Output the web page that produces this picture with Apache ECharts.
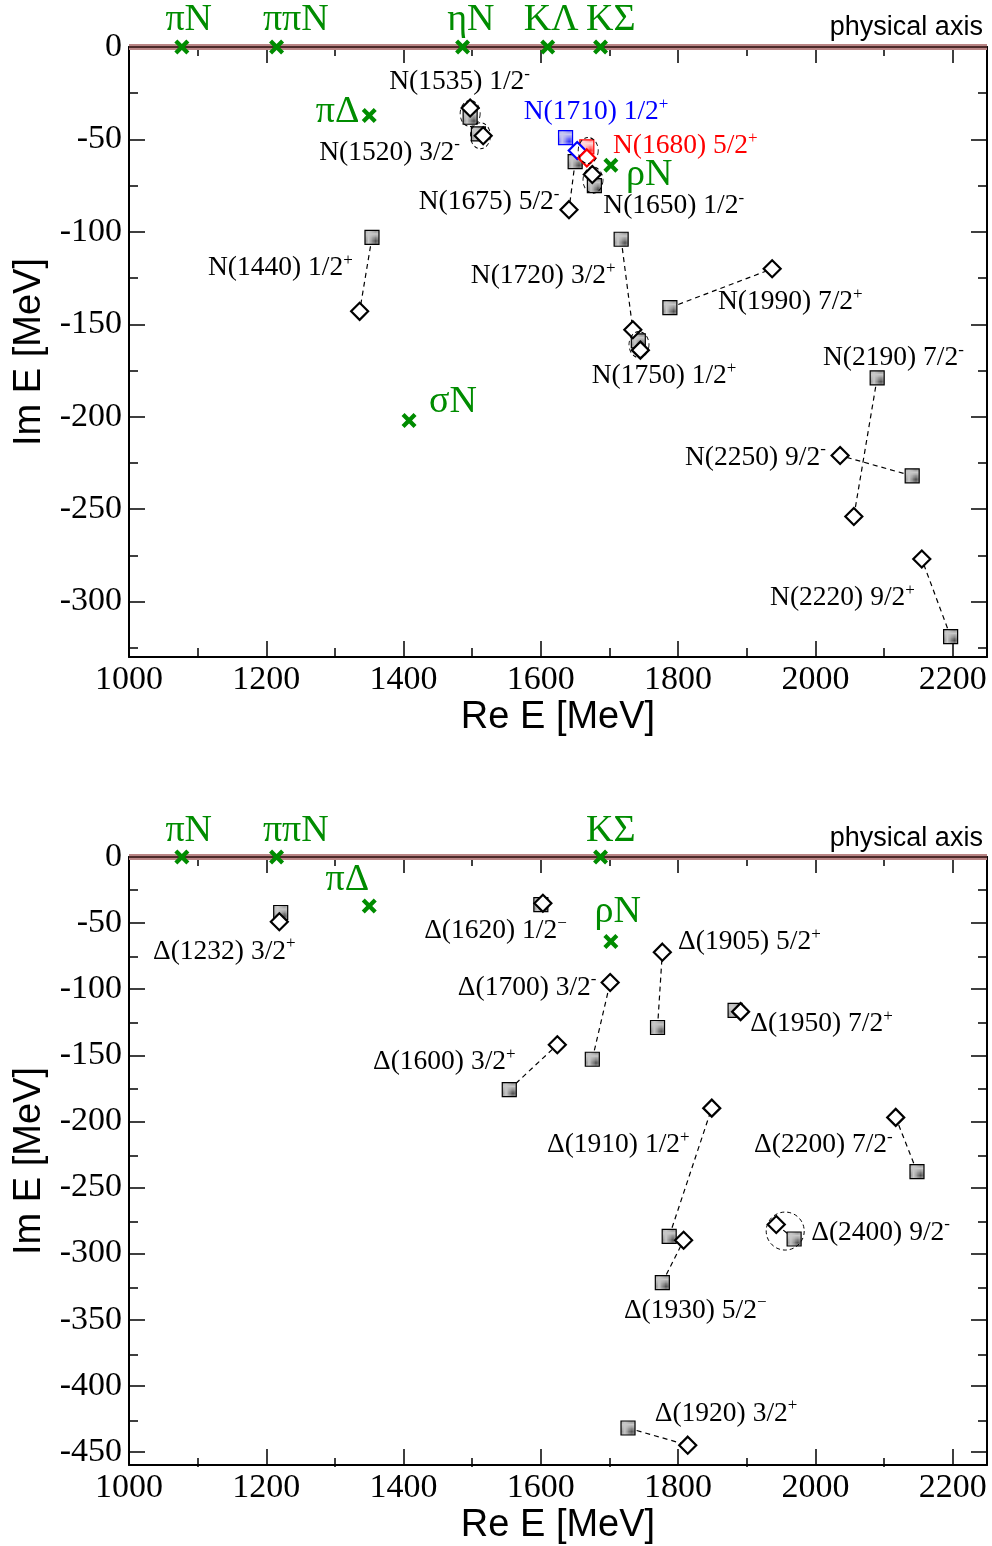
<!DOCTYPE html>
<html>
<head>
<meta charset="utf-8">
<script src="https://cdn.jsdelivr.net/npm/echarts@6/dist/echarts.min.js"></script>
<style>
  html, body { margin: 0; padding: 0; background: #fff; }
  #chart { width: 992px; height: 1546px; }
</style>
</head>
<body>
<div id="chart"></div>
<script>
// axis ticks
var xMajors = [1000, 1200, 1400, 1600, 1800, 2000, 2200];
var xMinors = [1100, 1300, 1500, 1700, 1900, 2100];
var nYMajors = [0, -50, -100, -150, -200, -250, -300];
var nYMinors = [-25, -75, -125, -175, -225, -275, -325];
var dYMajors = [0, -50, -100, -150, -200, -250, -300, -350, -400, -450];
var dYMinors = [-25, -75, -125, -175, -225, -275, -325, -375, -425];

// nucleon resonances: pole (diamond) and second value (square), Re E / Im E in MeV
var nNames = ['N(1535) 1/2', 'N(1520) 3/2', 'N(1710) 1/2', 'N(1680) 5/2', 'N(1675) 5/2',
  'N(1650) 1/2', 'N(1440) 1/2', 'N(1720) 3/2', 'N(1990) 7/2', 'N(1750) 1/2',
  'N(2190) 7/2', 'N(2250) 9/2', 'N(2220) 9/2'];
var nParity = ['-', '-', '+', '+', '-', '-', '+', '+', '+', '+', '-', '-', '+'];
var nDiamonds = [[1497, -33], [1516, -48], [1653, -56], [1667, -60], [1641, -88],
  [1675, -69], [1336, -143], [1734, -153], [1937, -120], [1745, -164],
  [2056, -254], [2036, -221], [2155, -277]];
var nSquares = [[1497, -38], [1509, -47], [1636, -49], [1667, -54], [1650, -62],
  [1678, -75], [1354, -103], [1717, -104], [1788, -141], [1742, -159],
  [2090, -179], [2141, -232], [2197, -319]];
var nLabelAt = [[1379, -19], [1277, -57], [1575, -35], [1705, -53.5], [1422, -84],
  [1691, -86], [1115, -119.5], [1498, -124], [1858, -138], [1674, -178],
  [2011, -168], [1810, -222], [1934, -298]];
var nColors = ['#000', '#000', '#0000ff', '#ff0000', '#000', '#000', '#000', '#000', '#000', '#000', '#000', '#000', '#000'];
var nCircles = [[1497, -36], [1512, -48], [1669, -56], [1676, -72], [1743, -161]];

// delta resonances
var dNames = ['Δ(1232) 3/2', 'Δ(1620) 1/2', 'Δ(1600) 3/2', 'Δ(1700) 3/2', 'Δ(1905) 5/2',
  'Δ(1950) 7/2', 'Δ(1910) 1/2', 'Δ(1930) 5/2', 'Δ(2200) 7/2', 'Δ(2400) 9/2', 'Δ(1920) 3/2'];
var dParity = ['+', '−', '+', '-', '+', '+', '+', '−', '-', '-', '+'];
var dDiamonds = [[1219, -49], [1603, -35], [1624, -142], [1701, -95], [1777, -72],
  [1891, -117], [1849, -190], [1808, -290], [2117, -197], [1943, -278], [1814, -445]];
var dSquares = [[1221, -42], [1600, -36], [1554, -176], [1675, -153], [1770, -129],
  [1883, -116], [1787, -287], [1777, -322], [2148, -238], [1969, -289], [1727, -432]];
var dLabelAt = [[1035, -71.5], [1430, -55.7], [1355.5, -155], [1479, -98.6], [1800, -64],
  [1905, -126.4], [1609, -218], [1721, -343], [1910.6, -218], [1994, -284], [1766, -421]];
var dCircles = [[1956, -283]];

// two-body channels (thresholds / branch points)
var nChannels = ['πN', 'ππN', 'ηN', 'KΛ', 'KΣ', 'πΔ', 'ρN', 'σN'];
var nChannelAt = [[1077, 0], [1215, 0], [1486, 0], [1610, 0], [1687, 0], [1350, -37], [1702, -64], [1408, -202]];
var nChannelLabelAt = [[1087, 14.6], [1243, 14.6], [1498, 14.6], [1615, 14.6], [1702, 14.6], [1304, -35], [1758, -69], [1472, -192]];
var dChannels = ['πN', 'ππN', 'KΣ', 'πΔ', 'ρN'];
var dChannelAt = [[1077, 0], [1215, 0], [1687, 0], [1350, -37], [1702, -64]];
var dChannelLabelAt = [[1087, 20], [1243, 20], [1702, 20], [1318, -17.3], [1712, -42]];

var serif = "'Liberation Serif', 'DejaVu Serif', serif";
var sans = "'Liberation Sans', 'DejaVu Sans', sans-serif";
var green = '#008c00';

function dots(bg, fg) {
  var c = document.createElement('canvas');
  c.width = 2; c.height = 2;
  var g = c.getContext('2d');
  g.fillStyle = bg; g.fillRect(0, 0, 2, 2);
  g.fillStyle = fg; g.fillRect(0, 0, 1, 1);
  return { image: c, repeat: 'repeat' };
}
var greyFill = dots('#c8c8c8', '#505050');
var blueFill = dots('#c8c8f0', '#3030ff');
var redFill = dots('#ffd8d8', '#ff3030');

var panels = [
  { top: 47, yMin: -330, majors: nYMajors, minors: nYMinors },
  { top: 857, yMin: -460, majors: dYMajors, minors: dYMinors }
];

function plain(v) { return String(v); }

var grids = [], xAxes = [], yAxes = [];
panels.forEach(function (p) {
  [true, false].forEach(function (main) {
    var g = grids.length;
    grids.push({ left: 129, top: p.top, width: 858, height: 610 });
    ['bottom', 'top'].forEach(function (pos) {
      var lab = main && pos === 'bottom';
      xAxes.push({
        type: 'value', gridIndex: g, position: pos, min: 1000, max: 2250,
        axisLine: { show: main, onZero: false, lineStyle: { color: '#000', width: 2 } },
        axisTick: { show: true, inside: true, length: main ? 16 : 9, customValues: main ? xMajors : xMinors,
          lineStyle: { color: '#000', width: 1.5 } },
        axisLabel: lab ? { show: true, customValues: xMajors, margin: 6, color: '#000',
          fontFamily: serif, fontSize: 34, formatter: plain } : { show: false },
        splitLine: { show: false },
        name: lab ? 'Re E [MeV]' : '', nameLocation: 'middle', nameGap: 42,
        nameTextStyle: { fontFamily: sans, fontSize: 38, color: '#000' }
      });
    });
    ['left', 'right'].forEach(function (pos) {
      var lab = main && pos === 'left';
      yAxes.push({
        type: 'value', gridIndex: g, position: pos, min: p.yMin, max: 0,
        axisLine: { show: main, onZero: false, lineStyle: { color: '#000', width: 2 } },
        axisTick: { show: true, inside: true, length: main ? 16 : 9, customValues: main ? p.majors : p.minors,
          lineStyle: { color: '#000', width: 1.5 } },
        axisLabel: lab ? { show: true, customValues: p.majors, margin: 7, color: '#000',
          fontFamily: serif, fontSize: 34, formatter: plain } : { show: false },
        splitLine: { show: false },
        name: lab ? 'Im E [MeV]' : '', nameLocation: 'middle', nameRotate: 90, nameGap: 80,
        nameTextStyle: { fontFamily: sans, fontSize: 38, color: '#000' }
      });
    });
  });
});

var series = [];

function textSeries(ax, data, label) {
  return { type: 'scatter', xAxisIndex: ax, yAxisIndex: ax, clip: false, z: 9, symbolSize: 1,
    itemStyle: { color: 'rgba(0,0,0,0)', opacity: 1 }, silent: true, data: data, label: label };
}

function addPanel(ax, names, parity, diamonds, squares, labelAt, colors, circles,
                  channels, channelAt, channelLabelAt, circleSize) {
  // physical axis
  series.push({ type: 'line', xAxisIndex: ax, yAxisIndex: ax, data: [[1000, 0], [2250, 0]], symbol: 'none',
    clip: false, silent: true, z: 3, lineStyle: { color: '#b98585', width: 6 } });
  series.push({ type: 'line', xAxisIndex: ax, yAxisIndex: ax, data: [[1000, 0], [2250, 0]], symbol: 'none',
    clip: false, silent: true, z: 3, lineStyle: { color: '#2a0c0c', width: 1.5 } });
  // connecting lines
  names.forEach(function (n, i) {
    var c = colors ? colors[i] : '#000';
    series.push({ type: 'line', xAxisIndex: ax, yAxisIndex: ax, data: [squares[i], diamonds[i]], symbol: 'none',
      silent: true, z: 4, lineStyle: { color: c, width: 1.2, type: c === '#0000ff' ? 'solid' : [5, 4] } });
  });
  series.push({ type: 'scatter', xAxisIndex: ax, yAxisIndex: ax, symbol: 'rect', symbolSize: 14, z: 5,
    data: squares.map(function (s, i) {
      var c = colors ? colors[i] : '#000';
      return { value: s, itemStyle: { color: c === '#0000ff' ? blueFill : c === '#ff0000' ? redFill : greyFill,
        borderColor: c, borderWidth: 1.2, opacity: 1 } };
    }) });
  series.push({ type: 'scatter', xAxisIndex: ax, yAxisIndex: ax, symbol: 'diamond', symbolSize: 17, z: 6,
    data: diamonds.map(function (d, i) {
      return { value: d, itemStyle: { color: '#fff', borderColor: colors ? colors[i] : '#000', borderWidth: 2.2, opacity: 1 } };
    }) });
  series.push({ type: 'scatter', xAxisIndex: ax, yAxisIndex: ax, symbol: 'circle', symbolSize: circleSize, z: 7,
    silent: true, data: circles,
    itemStyle: { color: 'rgba(0,0,0,0)', borderColor: '#000', borderWidth: 1, borderType: [4, 3], opacity: 1 } });
  // channel crosses
  series.push({ type: 'scatter', xAxisIndex: ax, yAxisIndex: ax, clip: false, z: 8, symbolSize: 15,
    symbol: 'path://M2,0L5,3L8,0L10,2L7,5L10,8L8,10L5,7L2,10L0,8L3,5L0,2Z',
    itemStyle: { color: green, opacity: 1 }, data: channelAt });
  // channel names
  series.push(textSeries(ax,
    channels.map(function (c, i) { return { value: channelLabelAt[i], name: c }; }),
    { show: true, position: 'inside', align: 'center', verticalAlign: 'middle', opacity: 1,
      formatter: '{b}', fontFamily: serif, fontSize: 38, color: green }));
  // resonance names
  series.push(textSeries(ax,
    names.map(function (n, i) {
      return { value: labelAt[i], name: n, sup: parity[i], label: { color: colors ? colors[i] : '#000' } };
    }),
    { show: true, position: 'inside', align: 'left', verticalAlign: 'middle', opacity: 1,
      fontFamily: serif, fontSize: 27.5, color: '#000',
      formatter: function (p) { return '{a|' + p.data.name + '}{s|' + p.data.sup + '}'; },
      rich: { a: { fontSize: 27.5, lineHeight: 32 }, s: { fontSize: 17, lineHeight: 14, verticalAlign: 'top' } } }));
  // physical axis label
  series.push(textSeries(ax,
    [{ value: [2244, ax === 0 ? 10.3 : 14.3], name: 'physical axis' }],
    { show: true, position: 'inside', align: 'right', verticalAlign: 'middle', opacity: 1,
      formatter: '{b}', fontFamily: sans, fontSize: 27, color: '#000' }));
}

addPanel(0, nNames, nParity, nDiamonds, nSquares, nLabelAt, nColors, nCircles,
  nChannels, nChannelAt, nChannelLabelAt, [20, 26]);
addPanel(4, dNames, dParity, dDiamonds, dSquares, dLabelAt, null, dCircles,
  dChannels, dChannelAt, dChannelLabelAt, 38);

var chart = echarts.init(document.getElementById('chart'));
chart.setOption({
  animation: false,
  backgroundColor: '#fff',
  grid: grids,
  xAxis: xAxes,
  yAxis: yAxes,
  series: series
});
</script>
</body>
</html>
